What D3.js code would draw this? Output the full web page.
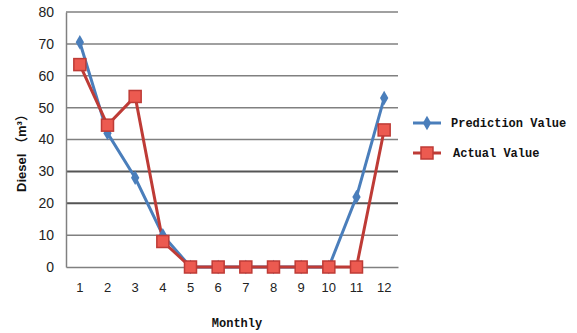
<!DOCTYPE html>
<html><head><meta charset="utf-8">
<script src="https://cdn.jsdelivr.net/npm/d3@7"></script>
<style>body{margin:0;background:#fff}</style>
</head><body>
<script>
const months = ["1","2","3","4","5","6","7","8","9","10","11","12"];
const prediction = [70.5, 42, 28, 10, 0, 0, 0, 0, 0, 0, 22, 53];
const actual = [63.5, 44.5, 53.5, 8, 0, 0, 0, 0, 0, 0, 0, 43];
const yTicks = [0,10,20,30,40,50,60,70,80];
const seriesNames = ["Prediction Value", "Actual Value"];

const W=577,H=333;
const svg=d3.select("body").append("svg").attr("width",W).attr("height",H);
const x=d3.scaleBand().domain(months).range([66,398]);
const y=d3.scaleLinear().domain([0,80]).range([267,12]);

// gridlines
svg.append("g").selectAll("line").data(yTicks.filter(d=>d>0)).join("line")
  .attr("x1",66).attr("x2",398).attr("y1",d=>y(d)).attr("y2",d=>y(d))
  .attr("stroke",d=>(d===20||d===30)?"#555":"#808080").attr("stroke-width",d=>(d===20||d===30)?2:1.5);

// axes
const ya=svg.append("g").attr("transform","translate(66,0)")
  .call(d3.axisLeft(y).tickValues(yTicks).tickSize(0).tickPadding(12));
ya.select(".domain").attr("stroke","#808080").attr("stroke-width",1.5);
ya.selectAll("text").attr("font-family","Arial, Liberation Sans, sans-serif").attr("font-size",14).attr("fill","#222");
const xa=svg.append("g").attr("transform","translate(0,267)")
  .call(d3.axisBottom(x).tickSize(0).tickPadding(16));
xa.select(".domain").attr("stroke","#808080").attr("stroke-width",1.5);
xa.selectAll("text").attr("font-family","Arial, Liberation Sans, sans-serif").attr("font-size",13).attr("fill","#222");

const cx=(d,i)=>x(months[i])+x.bandwidth()/2;
const line=d3.line().x((d,i)=>cx(d,i)).y(d=>y(d));

const blue="#4a7ebb", redLine="#be3b36", redFill="#ec5a50";
svg.append("path").datum(prediction).attr("d",line).attr("fill","none").attr("stroke",blue).attr("stroke-width",3);
svg.append("path").datum(actual).attr("d",line).attr("fill","none").attr("stroke",redLine).attr("stroke-width",3);

const diamond=d3.symbol().type(d3.symbolDiamond).size(60);
svg.append("g").selectAll("path").data(prediction).join("path")
  .attr("d",diamond).attr("transform",(d,i)=>`translate(${cx(d,i)},${y(d)})`).attr("fill",blue);
svg.append("g").selectAll("rect").data(actual).join("rect")
  .attr("x",(d,i)=>cx(d,i)-6).attr("y",d=>y(d)-6).attr("width",12).attr("height",12)
  .attr("fill",redFill).attr("stroke",redLine).attr("stroke-width",1.5);

// legend
const lg=svg.append("g").attr("font-family","Liberation Mono, DejaVu Sans Mono, monospace").attr("font-weight","bold").attr("font-size",12);
lg.append("line").attr("x1",413).attr("x2",441).attr("y1",123).attr("y2",123).attr("stroke",blue).attr("stroke-width",3);
lg.append("path").attr("d",diamond).attr("transform","translate(427,123)").attr("fill",blue);
lg.append("text").attr("x",451).attr("y",127).text(seriesNames[0]).attr("fill","#111");
lg.append("line").attr("x1",413).attr("x2",441).attr("y1",153).attr("y2",153).attr("stroke",redLine).attr("stroke-width",3);
lg.append("rect").attr("x",421).attr("y",147).attr("width",12).attr("height",12).attr("fill",redFill).attr("stroke",redLine).attr("stroke-width",1.5);
lg.append("text").attr("x",453).attr("y",157).text(seriesNames[1]).attr("fill","#111");

// titles
svg.append("text").attr("x",237).attr("y",327).attr("text-anchor","middle")
  .attr("font-family","Liberation Mono, DejaVu Sans Mono, monospace").attr("font-weight","bold").attr("font-size",12).attr("fill","#111").text("Monthly");
svg.append("text").attr("transform","translate(26,150) rotate(-90)").attr("text-anchor","middle")
  .attr("font-family","Arial, Liberation Sans, Noto Sans CJK SC, sans-serif").attr("font-weight","bold").attr("font-size",13).attr("fill","#111")
  .text("Diesel （m³）");
</script>
</body></html>
